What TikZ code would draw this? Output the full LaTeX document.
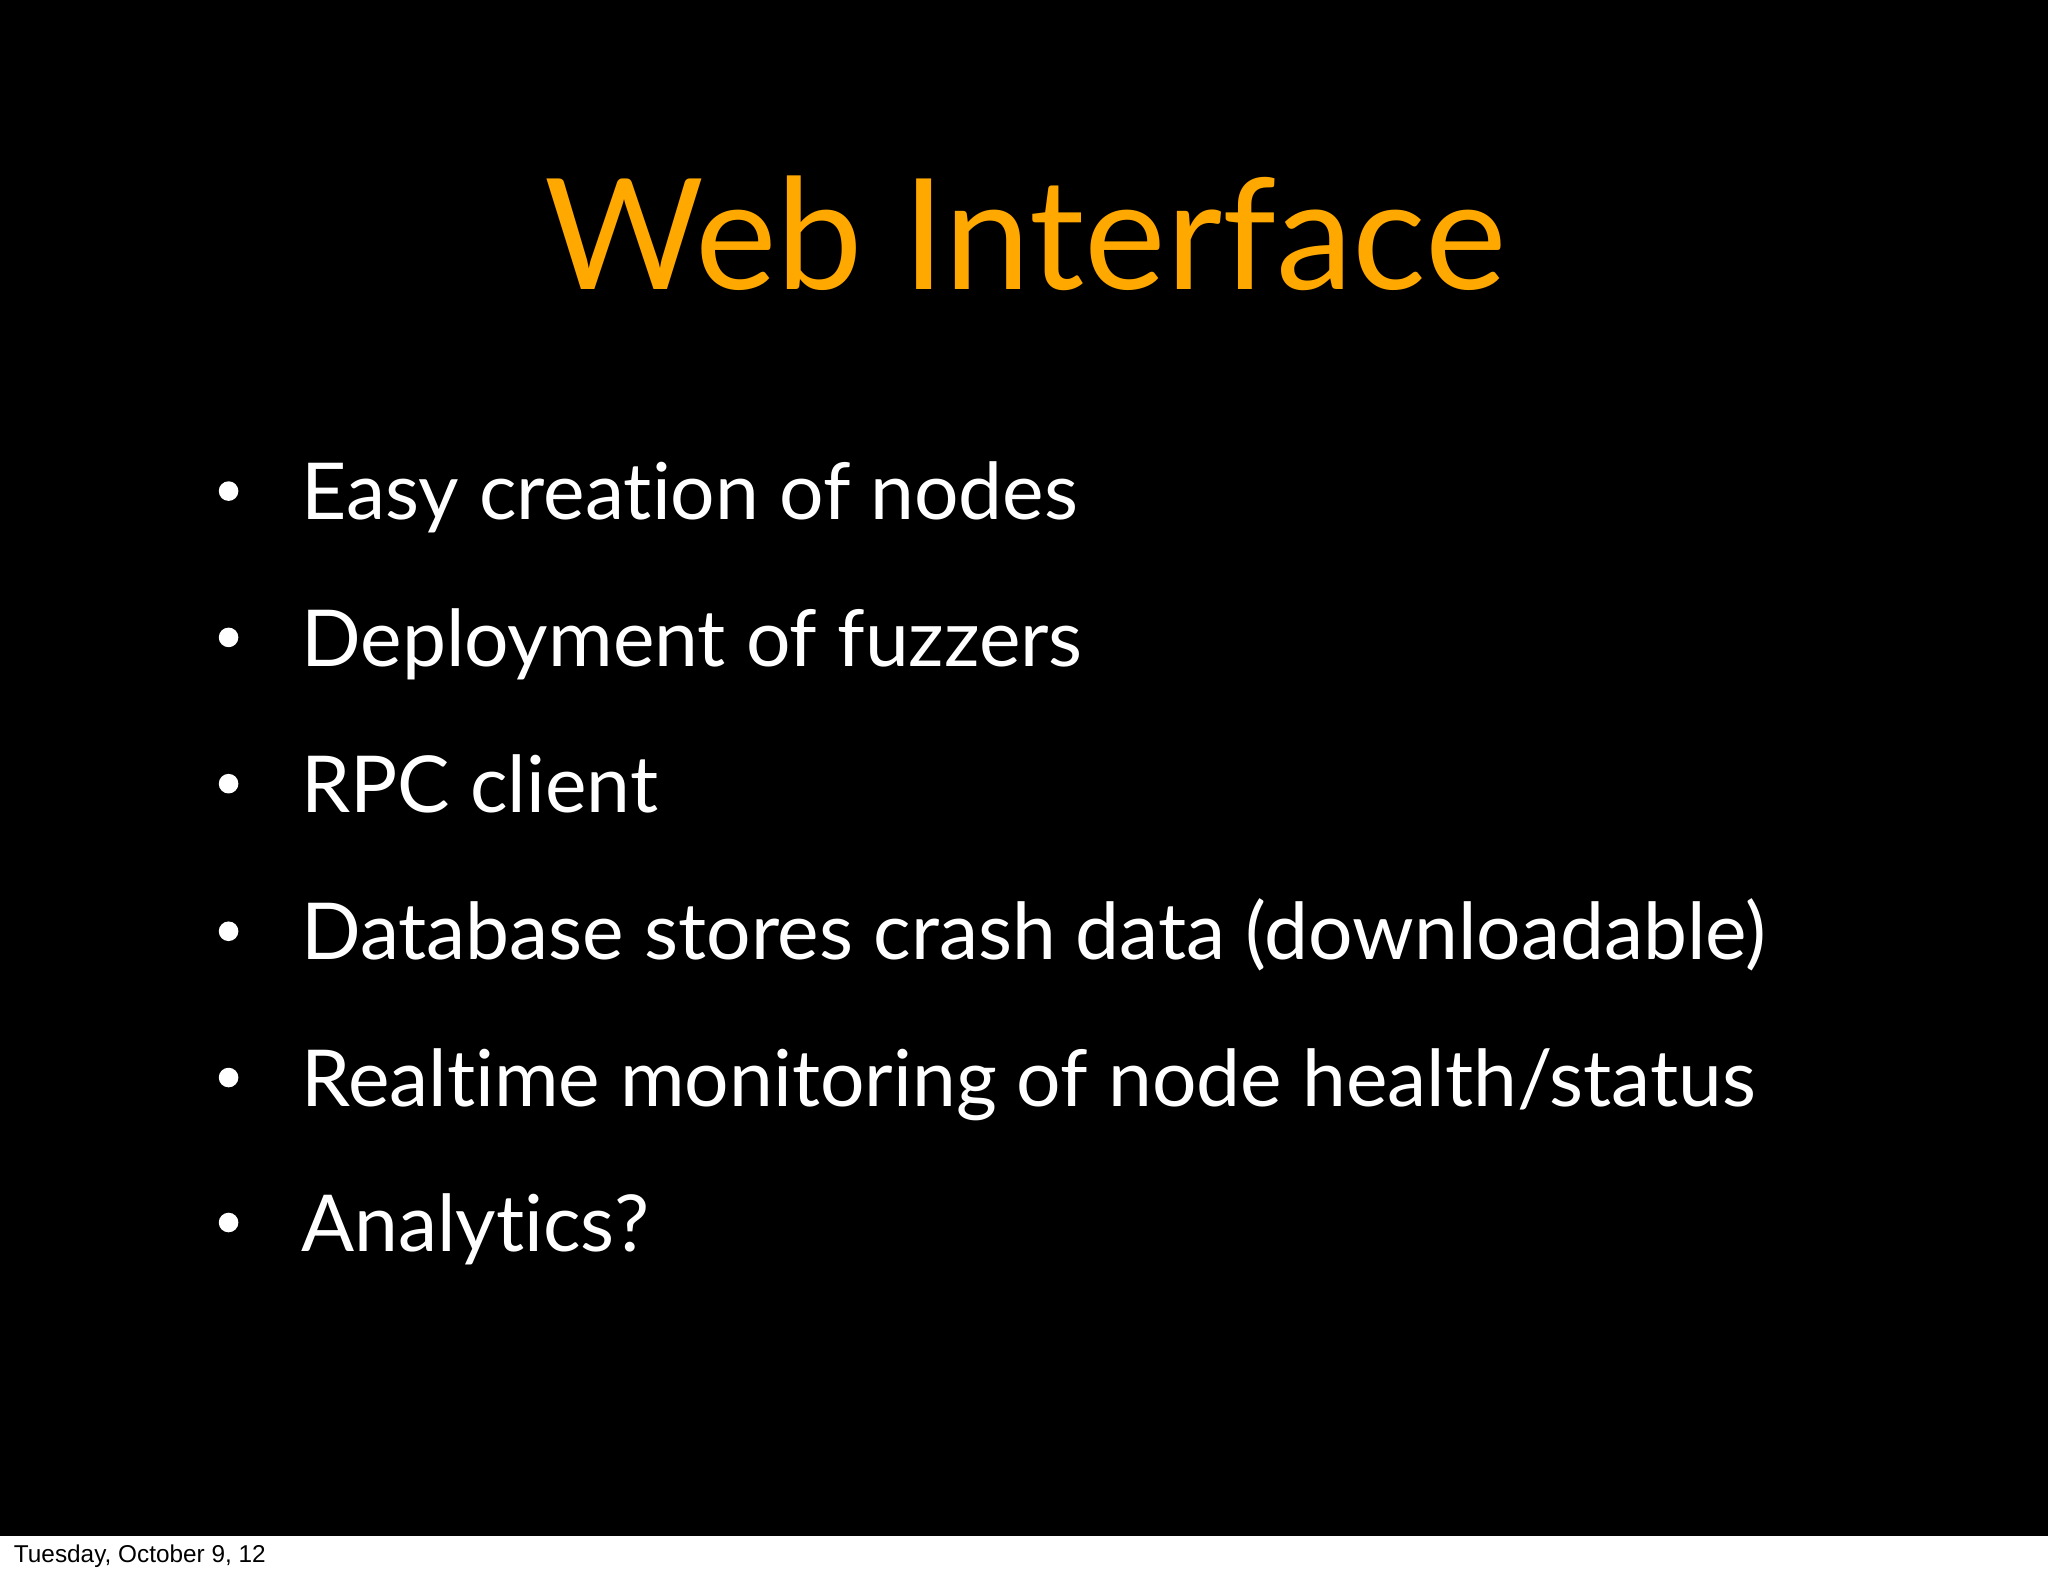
\documentclass[tikz,border=0pt]{standalone}
\usepackage{fontspec}
\setmainfont{Lato}[Ligatures=NoCommon]
\newfontfamily\footfont{Liberation Sans}
\definecolor{titleor}{HTML}{FFA800}
\begin{document}
\begin{tikzpicture}[x=0.01cm,y=-0.01cm,
  bul/.style={anchor=base west,text=white,font=\fontsize{17.1}{20}\selectfont,inner sep=0},
  dot/.style={circle,fill=white,inner sep=0,minimum size=0.15cm}]
\useasboundingbox (0,0) rectangle (1568,1206);
\fill[white] (0,0) rectangle (1568,1206);
\fill[black] (0,0) rectangle (1568,1176);
\node[anchor=base,text=titleor,font=\fontsize{33.6}{36}\selectfont,inner sep=0] (title) at (785,222) {Web Interface};
\foreach \i/\y/\t in {1/398/{Easy creation of nodes},2/510/{Deployment of fuzzers},3/622/{RPC client},4/735/{Database stores crash data (downloadable)},5/847/{Realtime monitoring of node health{/}status},6/958/{Analytics?}}{
  \node[dot] (d\i) at (175,\y-22) {};
  \node[bul] (b\i) at (230,\y) {\t};
}
\node[anchor=base west,font=\footfont\fontsize{5.3}{6}\selectfont,inner sep=0] (foot) at (10,1196) {Tuesday, October 9, 12};
\end{tikzpicture}
\end{document}
